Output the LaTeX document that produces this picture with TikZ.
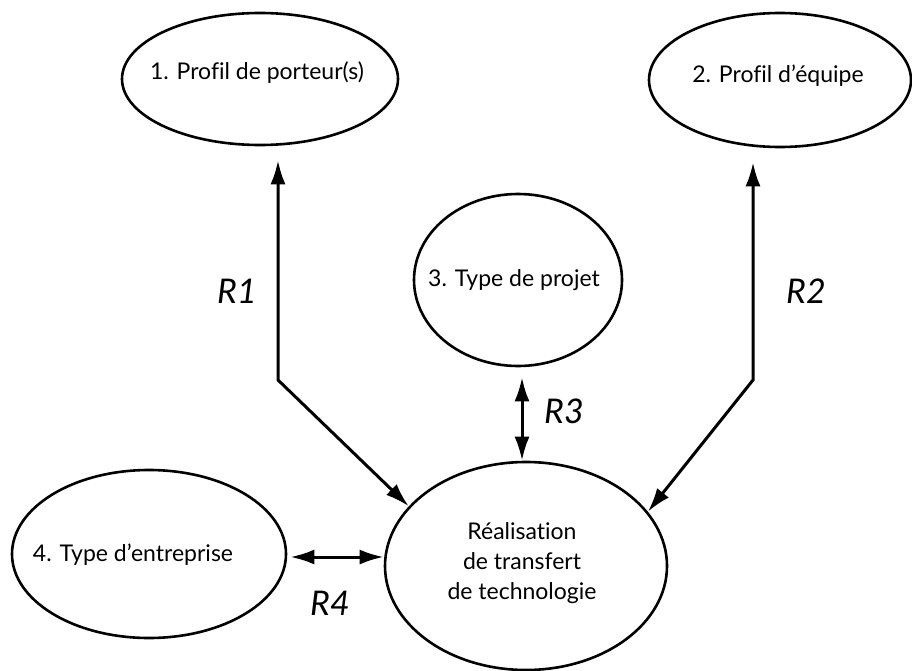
\documentclass[tikz,border=0pt]{standalone}
\usepackage{fontspec}
\setmainfont{Lato}[Ligatures=NoCommon]
\usetikzlibrary{shapes.geometric,arrows.meta,positioning,calc}

\begin{document}
\begin{tikzpicture}[x=1pt,y=-1pt,
  bulle/.style={draw,ellipse,line width=2.6pt,inner sep=0pt},
  texte/.style={font=\fontsize{23}{30}\selectfont,align=center,inner sep=0pt},
  relation/.style={font=\fontsize{34}{38}\selectfont\itshape,inner sep=0pt},
  duo/.style={line width=3pt,{Latex[length=24pt,width=15pt]}-{Latex[length=24pt,width=15pt]}}]

\useasboundingbox (0,0) rectangle (912,671);

%Ellipses
\node[bulle,minimum width=276,minimum height=132] (porteur) at (260,79) {};
\node[bulle,minimum width=262,minimum height=134] (equipe) at (780,80) {};
\node[bulle,minimum width=208,minimum height=172] (projet) at (518,280) {};
\node[bulle,minimum width=274,minimum height=168] (entreprise) at (149,554) {};
\node[bulle,minimum width=282,minimum height=208] (realisation) at (526,566) {};

%Textes
\node[texte] (t1) at (257,73) {1. Profil de porteur(s)};
\node[texte] (t2) at (778,76) {2. Profil d'équipe};
\node[texte] (t3) at (514,280) {3. Type de projet};
\node[texte] (t4) at (133,555) {4. Type d'entreprise};
\node[texte] (t5) at (522,563) {Réalisation\\de transfert\\de technologie};

%Coudes
\coordinate (c1) at (278,380);
\coordinate (c2) at (753,380);

%Relations
\draw[duo] ([yshift=-14]porteur.south -| c1) -- (c1) -- (realisation.153);
\draw[duo] ([yshift=-14]equipe.south -| c2) -- (c2) -- (realisation.24);
\draw[duo] ([yshift=-10]projet.south -| 522,0) -- (realisation.north -| 522,0);
\draw[duo] ([xshift=3]entreprise.east |- 0,557) -- (realisation.west |- 0,557);

%Etiquettes
\node[relation] (r1) at (237,291) {R1};
\node[relation] (r2) at (806,291) {R2};
\node[relation] (r3) at (564,411) {R3};
\node[relation] (r4) at (330,603) {R4};

\end{tikzpicture}
\end{document}
